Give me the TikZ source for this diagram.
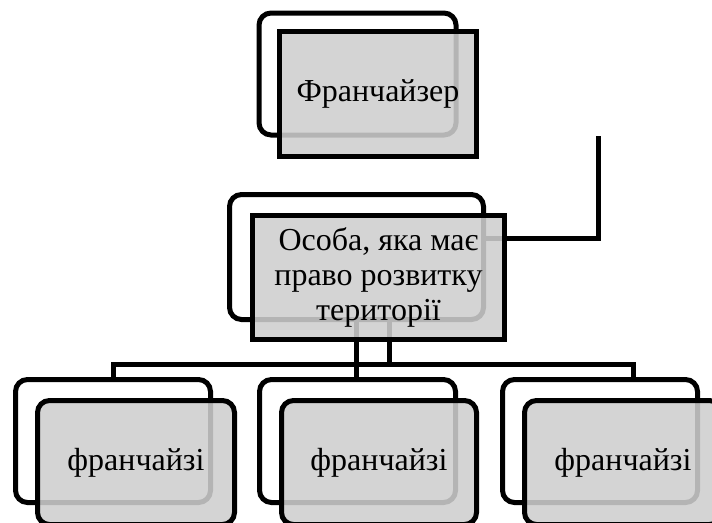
\documentclass[tikz,border=0pt]{standalone}
\usepackage{fontspec}
\setmainfont{Liberation Serif}
\definecolor{boxgray}{RGB}{206,206,206}
\begin{document}
\begin{tikzpicture}[x=1pt,y=-1pt,
  line width=5pt,
  backbox/.style={draw=black, rectangle, rounded corners=12pt, inner sep=0pt, outer sep=0pt},
  frontbox/.style={draw=black, rectangle, fill=boxgray, fill opacity=0.88, text opacity=1, inner sep=0pt, outer sep=0pt, font=\fontsize{32}{35}\selectfont, align=center},
  roundfront/.style={frontbox, rounded corners=12pt},
  conn/.style={draw=black, line width=5pt, line join=miter}]
\clip (0,0) rectangle (712,522);
% back boxes
\node[backbox, minimum width=197pt, minimum height=122pt] (topback) at (357.5,74) {};
\node[backbox, minimum width=254pt, minimum height=125pt] (midback) at (356.5,257) {};
\node[backbox, minimum width=195pt, minimum height=123pt] (lback) at (113,441) {};
\node[backbox, minimum width=196pt, minimum height=123pt] (cback) at (357.5,441) {};
\node[backbox, minimum width=195pt, minimum height=123pt] (rback) at (600,441) {};
% connectors
\coordinate (t1) at (598,136);
\coordinate (j1) at (598,238);
\coordinate (bl) at (113,364);
\coordinate (br) at (633,364);
\coordinate (m2) at (389,319.5);
\draw[conn] (t1) -- (j1) -- (j1 -| midback.east);
\draw[conn] (bl |- lback.north) -- (bl) -- (br) -- (br |- rback.north);
\draw[conn] (midback.south) -- (midback.south |- cback.north);
\draw[conn] (m2) -- (m2 |- bl);
% front boxes
\node[frontbox, minimum width=197pt, minimum height=125pt] (topfront) at (378,94) {Франчайзер};
\node[frontbox, minimum width=252pt, minimum height=124pt] (midfront) at (378.5,277.5) {Особа, яка має\\право розвитку\\території};
\node[roundfront, minimum width=197pt, minimum height=124pt] (lfront) at (136,462.5) {франчайзі};
\node[roundfront, minimum width=195pt, minimum height=124pt] (cfront) at (379,462.5) {франчайзі};
\node[roundfront, minimum width=197pt, minimum height=124pt] (rfront) at (623,462.5) {франчайзі};
\end{tikzpicture}
\end{document}
